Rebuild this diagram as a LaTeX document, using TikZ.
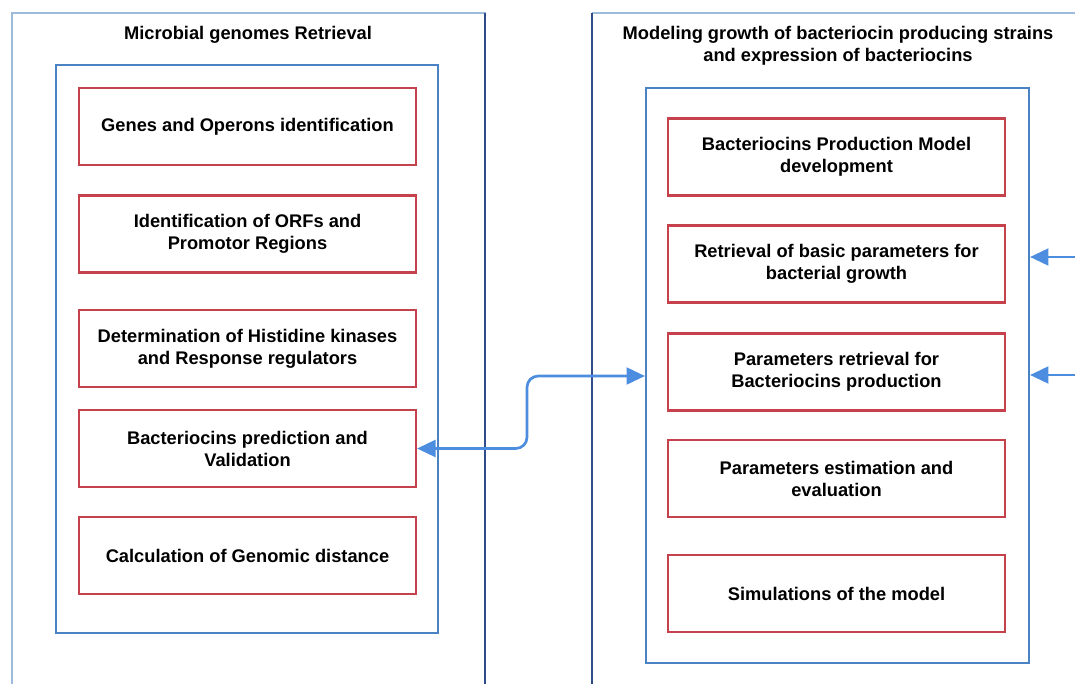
\documentclass[tikz,border=0pt]{standalone}
\usepackage{fontspec}
\setmainfont{Liberation Sans}
\usetikzlibrary{positioning,arrows.meta}
\definecolor{frameBlue}{HTML}{9DBCDB}
\definecolor{frameNavy}{HTML}{2E4C8C}
\definecolor{panelBlue}{HTML}{4A82C4}
\definecolor{stepRed}{HTML}{C5424D}
\definecolor{linkBlue}{HTML}{4C8DE0}

\begin{document}
\begin{tikzpicture}[x=0.025cm, y=-0.025cm,
        stageTitle/.style={font=\bfseries\fontsize{13}{15.6}\selectfont, align=center},
        panelBox/.style={draw=panelBlue, line width=1.4pt},
        stepBox/.style={draw=stepRed, line width=1.5pt, minimum width=8.425cm, minimum height=1.925cm, align=center, inner sep=4pt, font=\bfseries\fontsize{13}{15.6}\selectfont},
        linkArrow/.style={{Triangle[length=4.6mm, width=4.2mm]}-{Triangle[length=4.6mm, width=4.2mm]}, line width=1.9pt, draw=linkBlue, rounded corners=8pt},
        inArrow/.style={-{Triangle[length=4.6mm, width=4.2mm]}, line width=1.9pt, draw=linkBlue}
    ]
        \useasboundingbox (0,0) rectangle (1075,683);
        \clip (0,0) rectangle (1075,683);

        % Outer frames (cut off at the page edge)
        \draw[frameBlue, line width=1.1pt] (485,720) |- (12,13) -- (12,720);
        \draw[frameNavy, line width=1.1pt] (485,13) -- (485,720);
        \draw[frameBlue, line width=1.1pt] (592,13) -- (1100,13);
        \draw[frameNavy, line width=1.1pt] (592,13) -- (592,720);

        % Titles
        \node[stageTitle] (genomeTitle) at (248,35) {Microbial genomes Retrieval};
        \node[stageTitle] (modelTitle) at (838,46) {Modeling growth of bacteriocin producing strains\\and expression of bacteriocins};

        % Left panel
        \node[panelBox, minimum width=9.55cm, minimum height=14.2cm] (genomePanel) at (247,349) {};
        \node[stepBox] (genesOperons) at (247.5,126.5) {Genes and Operons identification};
        \node[stepBox] (orfRegions) at (247.5,234) {Identification of ORFs and\\Promotor Regions};
        \node[stepBox] (kinases) at (247.5,348.5) {Determination of Histidine kinases\\and Response regulators};
        \node[stepBox] (bacPred) at (247.5,448.5) {Bacteriocins prediction and\\Validation};
        \node[stepBox] (genDist) at (247.5,555.5) {Calculation of Genomic distance};

        % Right panel
        \node[panelBox, minimum width=9.575cm, minimum height=14.375cm] (modelPanel) at (837.5,375.5) {};
        \node[stepBox] (prodModel) at (836.5,157) {Bacteriocins Production Model\\development};
        \node[stepBox] (growthParams) at (836.5,264) {Retrieval of basic parameters for\\bacterial growth};
        \node[stepBox] (prodParams) at (836.5,372) {Parameters retrieval for\\Bacteriocins production};
        \node[stepBox] (paramEval) at (836.5,478.5) {Parameters estimation and\\evaluation};
        \node[stepBox] (simModel) at (836.5,593.5) {Simulations of the model};

        % Connectors
        \coordinate (linkBend) at (527,0);
        \draw[linkArrow] (bacPred.east) -- (bacPred.east -| linkBend) |- ([yshift=-0.1cm]modelPanel.west |- prodParams.center);
        \coordinate (inGrowth) at (1090,257);
        \coordinate (inProd) at (1090,375);
        \draw[inArrow] (inGrowth) -- (modelPanel.east |- inGrowth);
        \draw[inArrow] (inProd) -- (modelPanel.east |- inProd);
    \end{tikzpicture}
\end{document}
